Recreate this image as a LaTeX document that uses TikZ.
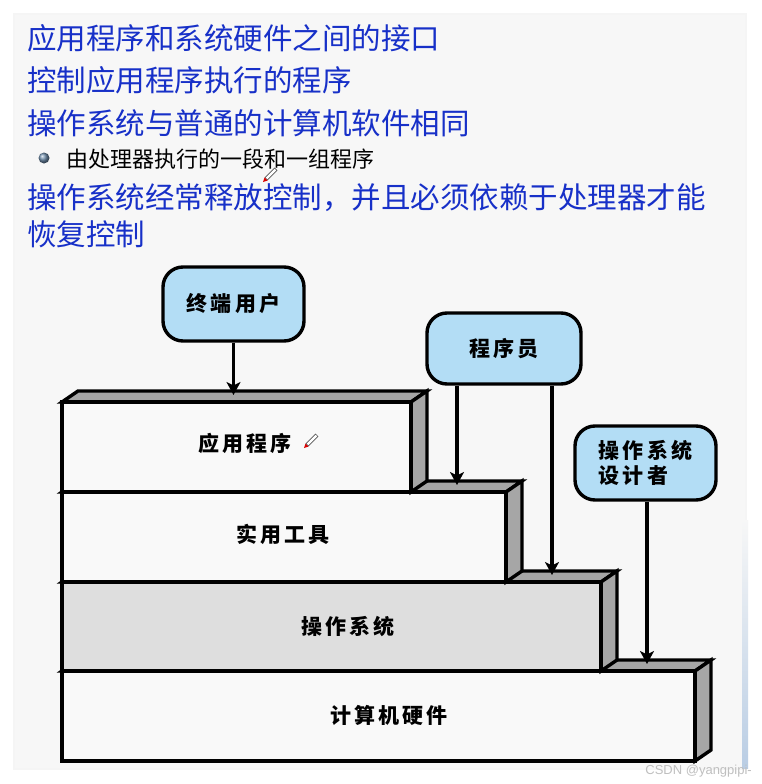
\documentclass[tikz,border=0pt]{standalone}
\usepackage{fontspec}
\setmainfont{Liberation Sans}
\newfontfamily\cjk{Noto Sans CJK SC}
\newfontfamily\cjkb{Noto Sans CJK SC}[LetterSpace=15]
\usetikzlibrary{arrows.meta}
\definecolor{bluetxt}{HTML}{1730C8}
\definecolor{panel}{HTML}{F7F7F7}
\definecolor{boxblue}{HTML}{B3DDF5}
\definecolor{sidegray}{HTML}{A6A6A6}
\definecolor{frontw}{HTML}{F9F9F9}
\definecolor{osfront}{HTML}{DEDEDE}
\definecolor{ballc}{HTML}{6E8CAA}
\newcommand\stepblk[4]{%
  \draw[edge, fill=sidegray] (62,#1) -- (78,#1-11) -- (#3+16,#1-11) -- (#3,#1) -- cycle;
  \draw[edge, fill=sidegray] (#3,#1) -- (#3+16,#1-11) -- (#3+16,#2-11) -- (#3,#2) -- cycle;
  \draw[edge, fill=#4] (62,#1) rectangle (#3,#2);
}
\newcommand\penicon[2]{%
  \draw[line width=4pt, black!65] (#1+3,#2-3) -- (#1+13,#2-13);
  \draw[line width=2.2pt, white] (#1+3.6,#2-3.6) -- (#1+12.4,#2-12.4);
  \fill[red!85!black] (#1,#2) -- (#1+1.5,#2-4.5) -- (#1+4.5,#2-1.5) -- cycle;
}
\tikzset{
  edge/.style={draw=black, line width=3.4pt, line join=miter},
  actor/.style={draw=black, line width=3.4pt, fill=boxblue, rounded corners=20pt,
    font=\cjkb\bfseries\fontsize{21}{25}\selectfont, align=left, inner sep=0pt},
  layerlbl/.style={font=\cjkb\bfseries\fontsize{21}{25}\selectfont, inner sep=0pt},
  arr/.style={draw=black, line width=3.2pt, -{Stealth[length=13pt,width=14pt,inset=3.5pt]}},
  bluet/.style={text=bluetxt, font=\cjk\fontsize{29.5}{30}\selectfont, anchor=west, inner sep=0pt},
  blackt/.style={text=black, font=\cjk\fontsize{22}{24}\selectfont, anchor=west, inner sep=0pt}
}
\begin{document}
\begin{tikzpicture}[x=1pt,y=-1pt]
\useasboundingbox (0,0) rectangle (761,784);
\fill[white] (0,0) rectangle (761,784);
\fill[black!4] (13,13) rectangle (747,770);
\fill[panel] (15,15) rectangle (745,768);
\fill[top color=panel, bottom color={rgb,255:red,185;green,205;blue,228}] (742,520) rectangle (748,768);

% text
\node[bluet] (l1) at (27,38) {应用程序和系统硬件之间的接口};
\node[bluet] (l2) at (27,80) {控制应用程序执行的程序};
\node[bluet] (l3) at (27,123) {操作系统与普通的计算机软件相同};
\shade[ball color=ballc] (44,158) circle (5.5);
\node[blackt] (b1) at (66,159) {由处理器执行的一段和一组程序};
\node[bluet] (l4) at (27,198) {操作系统经常释放控制，并且必须依赖于处理器才能};
\node[bluet] (l5) at (27,234) {恢复控制};
\penicon{263}{182}

% layers
\stepblk{671}{761}{695}{frontw}
\stepblk{582}{671}{601}{osfront}
\stepblk{492}{582}{506}{frontw}
\stepblk{402}{492}{411}{frontw}
\node[layerlbl] (app) at (245,443) {应用程序};
\node[layerlbl] (util) at (283,534) {实用工具};
\node[layerlbl] (os) at (348,626) {操作系统};
\node[layerlbl] (hw) at (389,715) {计算机硬件};
\penicon{304}{448}

% actors
\node[actor, minimum width=141pt, minimum height=74pt] (eu) at (233.5,304) {终端用户};
\node[actor, minimum width=154pt, minimum height=71pt] (pg) at (504,348.5) {程序员};
\node[actor, minimum width=141pt, minimum height=74pt] (ds) at (645.5,463) {操作系统\\设计者};

% arrows
\coordinate (t1) at (233.5,395);
\coordinate (t2) at (457,485);
\coordinate (t3) at (552,575);
\coordinate (t4) at (647,664);
\draw[arr] (eu) -- (t1);
\draw[arr] (pg.south -| t2) -- (t2);
\draw[arr] (pg.south -| t3) -- (t3);
\draw[arr] (ds.south -| t4) -- (t4);

\node[anchor=east, text=black!25, font=\fontsize{13}{13}\selectfont, inner sep=0pt] (wm) at (752,771) {CSDN @yangpipi-};
\end{tikzpicture}
\end{document}
